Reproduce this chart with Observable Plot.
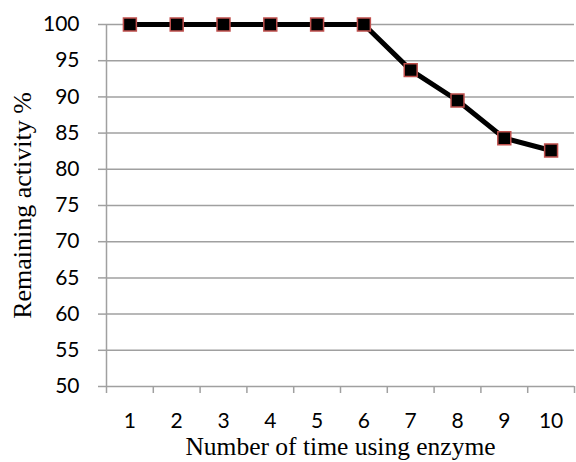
<!DOCTYPE html>
<html>
<head>
<meta charset="utf-8">
<script src="https://cdn.jsdelivr.net/npm/d3@7"></script>
<script src="https://cdn.jsdelivr.net/npm/@observablehq/plot@0.6"></script>
<style>
  html, body { margin: 0; padding: 0; background: #fff; }
</style>
</head>
<body>
<div id="chart"></div>
<script>
const uses = [1, 2, 3, 4, 5, 6, 7, 8, 9, 10];
const activity = [100, 100, 100, 100, 100, 100, 93.7, 89.5, 84.3, 82.6];
const yTicks = [50, 55, 60, 65, 70, 75, 80, 85, 90, 95, 100];
const xBounds = [0.5, 1.5, 2.5, 3.5, 4.5, 5.5, 6.5, 7.5, 8.5, 9.5, 10.5];

const data = uses.map((u, i) => ({use: u, value: activity[i]}));

const chart = Plot.plot({
  width: 576,
  height: 462,
  marginLeft: 106,
  marginRight: 2,
  marginTop: 24,
  marginBottom: 76,
  style: {fontFamily: "Lato, sans-serif", fontSize: "21px", color: "#000", background: "#fff"},
  x: {domain: [0.5, 10.5]},
  y: {domain: [50, 100]},
  marks: [
    Plot.gridY(yTicks, {stroke: "#a0a0a0", strokeOpacity: 1, strokeWidth: 1.5}),
    Plot.axisY(yTicks, {tickSize: 8, tickPadding: 19, stroke: "#a0a0a0", strokeWidth: 1.5, label: null, fontSize: 21}),
    Plot.ruleX([0.5], {stroke: "#a0a0a0", strokeWidth: 1.5}),
    Plot.axisX(xBounds, {tickSize: 7, tickFormat: () => "", stroke: "#a0a0a0", strokeWidth: 1.5, label: null}),
    Plot.axisX(uses, {tickSize: 0, tickPadding: 27, label: null, fontSize: 21}),
    Plot.line(data, {x: "use", y: "value", stroke: "#000", strokeWidth: 5}),
    Plot.dot(data, {x: "use", y: "value", symbol: "square", r: 7.3, fill: "#000", stroke: "#c0504d", strokeWidth: 1.5}),
    Plot.text(["Number of time using enzyme"], {frameAnchor: "bottom", lineAnchor: "middle", dy: 60, fontFamily: "Liberation Serif, Times New Roman, serif", fontSize: 25.5, fill: "#000"}),
    Plot.text(["Remaining activity %"], {frameAnchor: "left", textAnchor: "middle", dx: -84, rotate: -90, fontFamily: "Liberation Serif, Times New Roman, serif", fontSize: 26, fill: "#000"})
  ]
});
document.getElementById("chart").appendChild(chart);
</script>
</body>
</html>
